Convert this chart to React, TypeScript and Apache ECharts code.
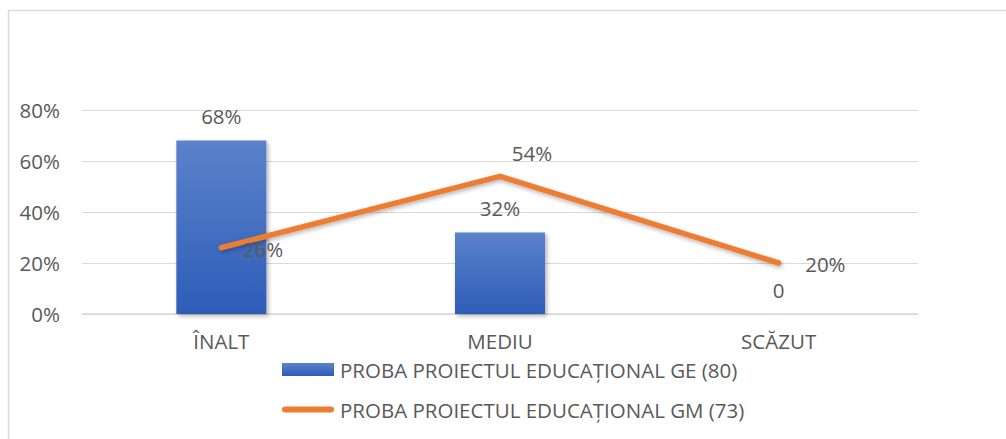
import React, { useEffect, useRef } from "react";
import * as echarts from "echarts";

const categories = ["ÎNALT", "MEDIU", "SCĂZUT"];
const geName = "PROBA PROIECTUL EDUCAȚIONAL GE (80)";
const gmName = "PROBA PROIECTUL EDUCAȚIONAL GM (73)";
const geValues = [68, 32, 0];
const gmValues = [26, 54, 20];
const yTicks = [0, 20, 40, 60, 80];

const FONT = "Open Sans";
const GRAY = "#595959";
const FS = 20.5;

export default function App() {
  const ref = useRef<HTMLDivElement>(null);
  useEffect(() => {
    const chart = echarts.init(ref.current!, null, { renderer: "svg" });
    const gmLabelPos: any[] = [
      { position: "right", distance: 21, offset: [0, 1] },
      { position: "top", distance: 12, offset: [32, 0] },
      { position: "right", distance: 26, offset: [0, 1] },
    ];
    chart.setOption({
      animation: false,
      textStyle: { fontFamily: FONT },
      graphic: [
        { type: "line", shape: { x1: 8.5, y1: 10.5, x2: 1006, y2: 10.5 }, style: { stroke: "#d9d9d9", lineWidth: 1.5 } },
        { type: "line", shape: { x1: 8.5, y1: 10.5, x2: 8.5, y2: 439 }, style: { stroke: "#d9d9d9", lineWidth: 1.5 } },
      ],
      grid: { left: 82, right: 88, top: 110, bottom: 125 },
      legend: {
        orient: "vertical",
        left: 282,
        top: 359,
        padding: 0,
        itemWidth: 52,
        itemHeight: 13,
        itemGap: 19,
        textStyle: { color: GRAY, fontSize: FS, fontFamily: FONT, padding: [0, 0, 0, 1] },
        data: [
          { name: geName, icon: "rect" },
          { name: gmName, icon: "path://M3,0 L49,0 A3,3 0 0 1 49,6 L3,6 A3,3 0 0 1 3,0 Z" },
        ],
      },
      xAxis: {
        type: "category",
        data: categories,
        axisLine: { show: true, lineStyle: { color: "#d9d9d9", width: 1.5 } },
        axisTick: { show: false },
        axisLabel: { color: GRAY, fontSize: FS, margin: 17, fontFamily: FONT, lineHeight: 20 },
      },
      yAxis: {
        type: "value",
        min: 0,
        max: 80,
        interval: 20,
        axisLine: { show: false },
        axisTick: { show: false },
        splitLine: { lineStyle: { color: "#d9d9d9", width: 1 } },
        axisLabel: {
          color: GRAY,
          fontSize: FS,
          margin: 22,
          fontFamily: FONT,
          formatter: (v: number) => (yTicks.includes(v) ? v + "%" : ""),
        },
      },
      series: [
        {
          name: geName,
          type: "bar",
          barWidth: 90,
          data: geValues,
          itemStyle: {
            color: new echarts.graphic.LinearGradient(0, 0, 0, 1, [
              { offset: 0, color: "#5B82CB" },
              { offset: 1, color: "#2E5DB8" },
            ]),
            shadowBlur: 4,
            shadowColor: "rgba(0,0,0,0.3)",
            shadowOffsetX: 2,
            shadowOffsetY: 2,
          },
          label: {
            show: true,
            position: "top",
            distance: 14,
            color: GRAY,
            fontSize: FS,
            fontFamily: FONT,
            formatter: (p: any) => (p.value === 0 ? "0" : p.value + "%"),
          },
        },
        {
          name: gmName,
          type: "line",
          data: gmValues.map((v, i) => ({ value: v, label: gmLabelPos[i] })),
          symbol: "circle",
          symbolSize: 1,
          showSymbol: true,
          itemStyle: { color: "#ED7D31" },
          lineStyle: {
            color: "#ED7D31",
            width: 5.5,
            cap: "round",
            join: "round",
            shadowBlur: 4,
            shadowColor: "rgba(0,0,0,0.3)",
            shadowOffsetX: 1,
            shadowOffsetY: 2,
          },
          label: {
            show: true,
            color: GRAY,
            fontSize: FS,
            fontFamily: FONT,
            formatter: (p: any) => p.value + "%",
          },
          z: 3,
        },
      ],
    });
    return () => chart.dispose();
  }, []);
  return (
    <div
      ref={ref}
      style={{ position: "fixed", left: 0, top: 0, width: 1006, height: 439, background: "#fff" }}
    />
  );
}
